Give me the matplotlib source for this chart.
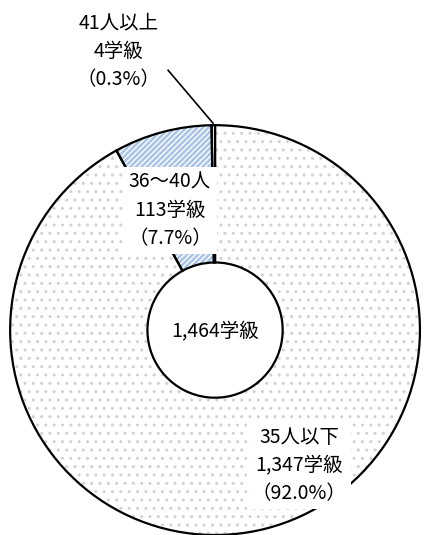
import matplotlib.pyplot as plt

plt.rcParams['font.family'] = ['Noto Sans CJK JP', 'DejaVu Sans']

# データ
categories = ["35人以下", "36～40人", "41人以上"]
counts = [1347, 113, 4]
percents = ["92.0%", "7.7%", "0.3%"]
total_label = "1,464学級"

fig = plt.figure(figsize=(4.25, 5.35), dpi=100)
ax = fig.add_axes([0.0235, 0.0, 0.965, 0.766])

width = 0.67
face = ["white", "#a9c4e6", "white"]
hatches = ["..", "//////", None]
hcolors = ["#d0d0d8", "white", "white"]

# 塗り + 模様
wedges, _ = ax.pie(counts, startangle=90, counterclock=False, radius=1,
                   colors=face, wedgeprops=dict(width=width, linewidth=0))
for w, h, hc in zip(wedges, hatches, hcolors):
    if h:
        w.set_hatch(h)
        w.set_edgecolor(hc)
# 枠線
ax.pie(counts, startangle=90, counterclock=False, radius=1,
       colors=["none"] * 3,
       wedgeprops=dict(width=width, linewidth=1.6, edgecolor="black", fill=False))

ax.set_xlim(-1, 1)
ax.set_ylim(-1, 1)
ax.set_aspect("equal")
ax.axis("off")

fs = 14
ax.text(0, -0.01, total_label, ha="center", va="center", fontsize=fs)

box = dict(boxstyle="square,pad=0.25", fc="white", ec="none")
lab = [f"{c}\n{n:,}学級\n（{p}）" for c, n, p in zip(categories, counts, percents)]
ax.text(0.41, -0.66, lab[0], ha="center", va="center", fontsize=fs,
        linespacing=1.45, bbox=box)
ax.text(-0.22, 0.585, lab[1], ha="center", va="center", fontsize=fs,
        linespacing=1.45, bbox=box)
ax.text(-0.47, 1.36, lab[2], ha="center", va="center", fontsize=fs,
        linespacing=1.45, clip_on=False)
ax.plot([-0.229, -0.01], [1.268, 1.01], color="black", lw=1.2, clip_on=False)

fig.savefig("out.png", dpi=100)
